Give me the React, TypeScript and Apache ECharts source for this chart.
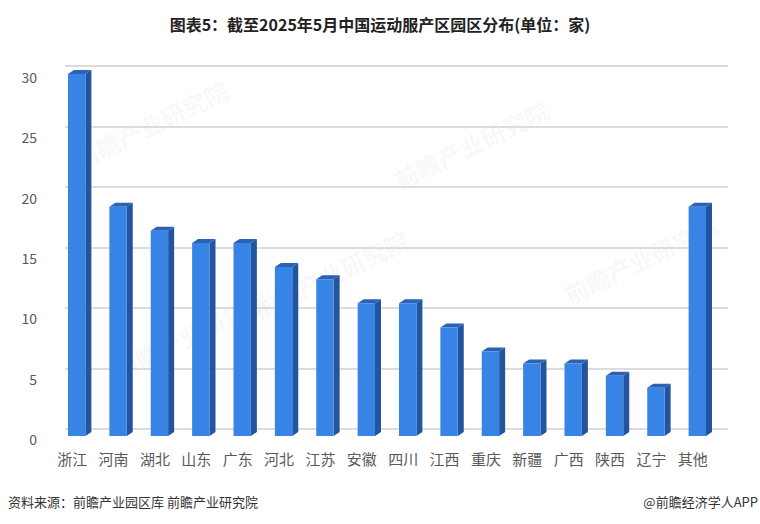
import React, { useEffect, useRef } from "react";
import * as echarts from "echarts";

const categories = ["浙江", "河南", "湖北", "山东", "广东", "河北", "江苏", "安徽", "四川", "江西", "重庆", "新疆", "广西", "陕西", "辽宁", "其他"];
const values = [30, 19, 17, 16, 16, 14, 13, 11, 11, 9, 7, 6, 6, 5, 4, 19];
const yMin = 0;
const yMax = 30;
const yInterval = 5;

const title = "图表5：截至2025年5月中国运动服产区园区分布(单位：家)";
const sourceText = "资料来源：前瞻产业园区库 前瞻产业研究院";
const brandText = "@前瞻经济学人APP";

export default function App() {
  const ref = useRef<HTMLDivElement>(null);
  useEffect(() => {
    if (!ref.current) return;
    const chart = echarts.init(ref.current, null, { renderer: "svg" });
    const font = "'Noto Sans CJK SC', 'Noto Sans', sans-serif";
    const wm = (x: number, y: number) => ({
      type: "text",
      x,
      y,
      rotation: Math.PI / 7,
      z: 0,
      style: { text: "前瞻产业研究院", fill: "rgba(190,190,190,0.10)", font: `bold 24px ${font}` },
    });
    chart.setOption({
      animation: false,
      backgroundColor: "#ffffff",
      title: {
        text: title,
        left: "center",
        top: 11,
        textStyle: { fontFamily: font, fontSize: 16, fontWeight: "bold", color: "#222" },
      },
      grid: [
        { left: 56, right: 42, top: 74, bottom: 88 },
        { left: 65, right: 32, top: 66, bottom: 95 },
      ],
      xAxis: [
        {
          type: "category",
          gridIndex: 0,
          data: categories,
          axisLine: { show: false },
          axisTick: { show: false },
          axisLabel: { fontFamily: font, fontSize: 15, color: "#595959", margin: 15, padding: [0, 9, 0, 0], interval: 0 },
        },
        { type: "value", gridIndex: 1, show: false, min: 0, max: 1 },
      ],
      yAxis: [
        {
          type: "value",
          gridIndex: 0,
          min: yMin,
          max: yMax,
          interval: yInterval,
          axisLine: { show: false },
          axisTick: { show: false },
          splitLine: { show: false },
          axisLabel: { fontFamily: font, fontSize: 14, color: "#595959", margin: 19, verticalAlign: "top", lineHeight: 6 },
        },
        {
          type: "value",
          gridIndex: 1,
          min: yMin,
          max: yMax,
          interval: yInterval,
          axisLine: { show: false },
          axisTick: { show: false },
          axisLabel: { show: false },
          splitLine: { show: true, lineStyle: { color: "#dcdcdc", width: 2 } },
        },
      ],
      series: [
        {
          type: "custom",
          xAxisIndex: 0,
          yAxisIndex: 0,
          data: values.map((v, i) => [i, v]),
          renderItem: (params: any, api: any) => {
            const i = api.value(0);
            const v = api.value(1);
            const top = api.coord([i, v]);
            const base = api.coord([i, 0]);
            const band = api.size([1, 0])[0];
            const w = band * 0.42;
            const dx = 6;
            const dy = 4;
            const x0 = top[0] - w / 2;
            const x1 = top[0] + w / 2;
            const yt = top[1];
            const yb = base[1];
            return {
              type: "group",
              children: [
                {
                  type: "polygon",
                  shape: { points: [[x1, yt], [x1 + dx, yt - dy], [x1 + dx, yb - dy], [x1, yb]] },
                  style: { fill: "#22559e" },
                },
                {
                  type: "polygon",
                  shape: { points: [[x0, yt], [x0 + dx, yt - dy], [x1 + dx, yt - dy], [x1, yt]] },
                  style: { fill: "#2b62b3" },
                },
                {
                  type: "rect",
                  shape: { x: x0, y: yt, width: w, height: yb - yt },
                  style: { fill: "#3783e6" },
                },
              ],
            };
          },
        },
      ],
      graphic: [
        wm(70, 150),
        wm(390, 170),
        wm(560, 285),
        wm(250, 300),
        wm(110, 360),
        {
          type: "text",
          left: 8,
          top: 495,
          style: { text: sourceText, fill: "#333", font: `13px ${font}` },
        },
        {
          type: "text",
          right: 2,
          top: 495,
          style: { text: brandText, fill: "#333", font: `13px ${font}` },
        },
      ],
    });
    return () => chart.dispose();
  }, []);
  return <div ref={ref} style={{ width: 760, height: 524, position: "absolute", left: 0, top: 0 }} />;
}
